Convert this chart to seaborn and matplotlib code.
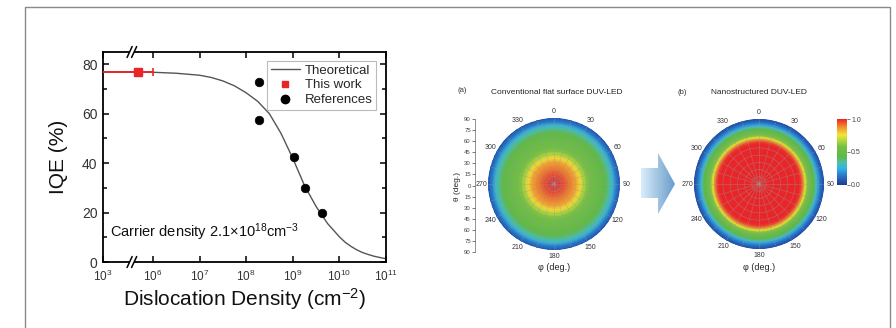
import numpy as np
import matplotlib
matplotlib.use("Agg")
import matplotlib.pyplot as plt
import seaborn as sns
from matplotlib.colors import LinearSegmentedColormap
from matplotlib.patches import Polygon, Rectangle
from matplotlib.lines import Line2D
from matplotlib.ticker import NullLocator, FixedLocator

# ---------------- data ----------------
theory_x = [1e3, 1e4, 1e5, 1e6, 3.16e6, 1e7, 1.78e7, 3.16e7, 5.62e7, 1e8, 1.78e8, 3.16e8,
            5.62e8, 1e9, 1.78e9, 3.16e9, 5.62e9, 1e10, 1.33e10, 1.78e10, 2.37e10, 3.16e10,
            4.22e10, 5.62e10, 7.5e10, 1e11]
theory_y = [77, 77, 77, 76.8, 76.4, 75.6, 74.7, 73.3, 71.3, 68.5, 65.0, 60.0,
            52.0, 42.0, 31.0, 22.5, 15.5, 10.2, 8.0, 6.3, 4.9, 3.8,
            3.0, 2.3, 1.8, 1.3]
this_work_x = [4.8e5]
this_work_y = [77.0]
this_work_err_lo = [1e3]
this_work_err_hi = [1e6]
ref_x = [1.9e8, 1.9e8, 1.05e9, 1.85e9, 4.2e9]
ref_y = [73.0, 57.5, 42.5, 30.0, 20.0]
xtick_labels = ["$10^{3}$", "$10^{6}$", "$10^{7}$", "$10^{8}$", "$10^{9}$", "$10^{10}$", "$10^{11}$"]
xtick_vals = [10 ** 4.93, 1e6, 1e7, 1e8, 1e9, 1e10, 1e11]

# polar emission maps: intensity vs polar angle theta (deg)
theta_a = [0, 5, 10, 15, 20, 25, 30, 35, 40, 45, 50, 55, 60, 65, 70, 75, 80, 85, 90]
inten_a = [1.0, 0.99, 0.97, 0.94, 0.91, 0.88, 0.84, 0.78, 0.68, 0.60, 0.56, 0.53,
           0.50, 0.47, 0.43, 0.36, 0.27, 0.15, 0.06]
theta_b = [0, 10, 20, 30, 40, 50, 55, 58, 61, 64, 67, 70, 73, 76, 79, 82, 85, 88, 90]
inten_b = [1.0, 1.0, 1.0, 1.0, 1.0, 1.0, 1.0, 0.97, 0.90, 0.74, 0.60, 0.54, 0.49,
           0.42, 0.32, 0.22, 0.14, 0.08, 0.05]
phi_deg = list(range(0, 361, 5))
phi_labels = ["0", "30", "60", "90", "120", "150", "180", "210", "240", "270", "300", "330"]
theta_axis_ticks = [-90, -75, -60, -45, -30, -15, 0, 15, 30, 45, 60, 75, 90]
cbar_ticks = [0.0, 0.5, 1.0]

# ---------------- style ----------------
sns.set_theme(style="ticks")
plt.rcParams["font.family"] = ["Liberation Sans", "DejaVu Sans"]
plt.rcParams["mathtext.fontset"] = "custom"
plt.rcParams["mathtext.rm"] = "Liberation Sans"
plt.rcParams["mathtext.it"] = "Liberation Sans:italic"
plt.rcParams["mathtext.bf"] = "Liberation Sans:bold"

W, H = 896, 328
fig = plt.figure(figsize=(W / 100, H / 100), dpi=100)
fig.patch.set_facecolor("white")


def fx(px):
    return px / W


def fy(py):
    return 1 - py / H


# ---------------- left panel ----------------
ax = fig.add_axes([fx(103), fy(262), 283 / W, 210 / H])
ax.set_xscale("log")
sns.lineplot(x=theory_x, y=theory_y, ax=ax, color="#555555", lw=1.0, legend=False)
ax.errorbar(this_work_x, this_work_y,
            xerr=[[this_work_x[0] - this_work_err_lo[0]], [this_work_err_hi[0] - this_work_x[0]]],
            fmt="s", color="#e8262a", ms=5.5, capsize=3, elinewidth=1.4, capthick=1.2, zorder=4)
sns.scatterplot(x=ref_x, y=ref_y, ax=ax, color="black", s=38, edgecolor="black", zorder=5, legend=False)

ax.set_xlim(10 ** 4.93, 1e11)
ax.set_ylim(0, 85)
ax.xaxis.set_major_locator(FixedLocator(xtick_vals))
ax.set_xticklabels(xtick_labels)
ax.xaxis.set_minor_locator(NullLocator())
ax.set_yticks([0, 20, 40, 60, 80])
ax.yaxis.set_minor_locator(FixedLocator([10, 30, 50, 70]))
ax.tick_params(which="both", direction="in", top=True, right=True, width=1.1, colors="black")
ax.tick_params(which="major", length=4.5)
ax.tick_params(which="minor", length=3)
ax.tick_params(axis="y", labelsize=10, labelcolor="#333333", pad=4)
ax.tick_params(axis="x", labelsize=8.5, labelcolor="#333333", pad=5)
for s in ax.spines.values():
    s.set_linewidth(1.3)
    s.set_color("black")

ax.set_ylabel("IQE (%)", fontsize=15, color="#111111")
ax.yaxis.set_label_coords(-0.124, 0.5)
ax.set_xlabel("Dislocation Density (cm$^{-2}$)", fontsize=15, color="#111111")
ax.xaxis.set_label_coords(0.5, -0.175)
ax.xaxis.label.set_va("center")

ax.text(0.025, 0.14, "Carrier density 2.1\u00d710$^{18}$cm$^{-3}$", transform=ax.transAxes,
        fontsize=10.5, color="#111111", va="center", ha="left")

handles = [Line2D([], [], color="#555555", lw=1.0),
           Line2D([], [], marker="s", color="#e8262a", ls="none", ms=5),
           Line2D([], [], marker="o", color="black", ls="none", ms=6)]
leg = ax.legend(handles, ["Theoretical", "This work", "References"], loc="upper right",
                bbox_to_anchor=(0.965, 0.957), borderaxespad=0, fontsize=9.5, frameon=True,
                fancybox=False, edgecolor="#bbbbbb", framealpha=1, handlelength=2.2,
                handletextpad=0.4, labelspacing=0.2, borderpad=0.25)
leg.get_frame().set_linewidth(0.8)

# axis break marks
for yb in (0.0, 1.0):
    ax.add_patch(Rectangle((0.094, yb - 0.02), 0.016, 0.04, transform=ax.transAxes,
                           facecolor="white", edgecolor="none", clip_on=False, zorder=6))
    for xb in (0.094, 0.110):
        ax.plot([xb - 0.009, xb + 0.009], [yb - 0.026, yb + 0.026], transform=ax.transAxes,
                color="black", lw=1.1, clip_on=False, zorder=7)

# ---------------- right panels ----------------
cmap = LinearSegmentedColormap.from_list("duv", [
    (0.00, "#1d3b94"), (0.12, "#2a6cc0"), (0.25, "#2fb4e6"), (0.34, "#4fbfa8"),
    (0.42, "#5cb947"), (0.58, "#74bf44"), (0.68, "#b9d83c"), (0.76, "#f2e33a"),
    (0.87, "#f3962c"), (1.00, "#e8262a")])

phi_rad = np.deg2rad(phi_deg)


def polar_panel(cx, cy, r, thetas, inten):
    axp = fig.add_axes([fx(cx - r), fy(cy + r), 2 * r / W, 2 * r / H], projection="polar")
    P, R = np.meshgrid(phi_rad, thetas, indexing="ij")
    C = np.tile(np.asarray(inten), (len(phi_deg), 1))
    m = axp.pcolormesh(P, R, C, shading="gouraud", cmap=cmap, vmin=0, vmax=1)
    axp.set_theta_zero_location("N")
    axp.set_theta_direction(-1)
    axp.set_ylim(0, 90)
    axp.set_yticks(np.arange(10, 90, 10))
    axp.set_yticklabels([])
    axp.set_xticks(np.deg2rad(np.arange(0, 360, 30)))
    axp.set_xticklabels(phi_labels)
    axp.xaxis.set_minor_locator(FixedLocator(np.deg2rad(np.arange(15, 360, 30))))
    axp.set_axisbelow(False)
    axp.grid(True, which="both", color="#9a9a9a", lw=0.4, alpha=0.55)
    axp.tick_params(axis="x", labelsize=5, colors="#333333", pad=-8)
    axp.spines["polar"].set_visible(False)
    axp.set_facecolor("white")
    return m


m = polar_panel(554, 184, 66, theta_a, inten_a)
polar_panel(759, 184, 65, theta_b, inten_b)

fig.text(fx(462), fy(91), "(a)", fontsize=5.5, color="#333333", ha="center", va="center")
fig.text(fx(557), fy(92), "Conventional flat surface DUV-LED", fontsize=6, color="#222222",
         ha="center", va="center")
fig.text(fx(682), fy(92), "(b)", fontsize=5.5, color="#333333", ha="center", va="center")
fig.text(fx(759), fy(93), "Nanostructured DUV-LED", fontsize=6, color="#222222",
         ha="center", va="center")
fig.text(fx(554), fy(267), "\u03c6 (deg.)", fontsize=6.5, color="#222222", ha="center", va="center")
fig.text(fx(759), fy(267), "\u03c6 (deg.)", fontsize=6.5, color="#222222", ha="center", va="center")

# theta scale of panel (a)
axt = fig.add_axes([fx(475), fy(252), 0.0005, 133 / H])
axt.set_ylim(90, -90)
axt.set_yticks(theta_axis_ticks)
axt.set_yticklabels([str(abs(t)) for t in theta_axis_ticks])
axt.set_xticks([])
for k in ("top", "right", "bottom"):
    axt.spines[k].set_visible(False)
axt.spines["left"].set_linewidth(0.5)
axt.spines["left"].set_color("#666666")
axt.tick_params(axis="y", labelsize=4.3, colors="#444444", length=2, width=0.5, pad=1)
axt.set_facecolor("none")
fig.text(fx(457), fy(187), "\u03b8 (deg.)", fontsize=6, color="#222222", rotation=90,
         ha="center", va="center")

# colorbar
cax = fig.add_axes([fx(837), fy(185), 10 / W, 66 / H])
cb = fig.colorbar(m, cax=cax, ticks=cbar_ticks)
cb.ax.set_yticklabels(["0.0", "0.5", "1.0"])
cb.outline.set_visible(False)
cb.ax.tick_params(labelsize=5, length=2, width=0.5, colors="#444444", pad=1)

# overlay: arrow and outer frame
ov = fig.add_axes([0, 0, 1, 1], zorder=-1)
ov.set_xlim(0, W)
ov.set_ylim(H, 0)
ov.axis("off")
arrow = Polygon([[641, 168], [658, 168], [658, 153], [675, 184], [658, 214], [658, 198], [641, 198]],
                closed=True, facecolor="none", edgecolor="none")
ov.add_patch(arrow)
grad = np.linspace(0, 1, 64).reshape(1, -1)
gcmap = LinearSegmentedColormap.from_list("arr", ["#d8edf9", "#6a9ccb"])
im = ov.imshow(grad, extent=(641, 675, 214, 153), cmap=gcmap, aspect="auto", interpolation="bilinear")
im.set_clip_path(arrow)
ov.add_patch(Rectangle((25, 7), 865, 330, facecolor="none", edgecolor="#8a8a8a", lw=1.0))

fig.savefig("out.png", dpi=100, facecolor="white")
